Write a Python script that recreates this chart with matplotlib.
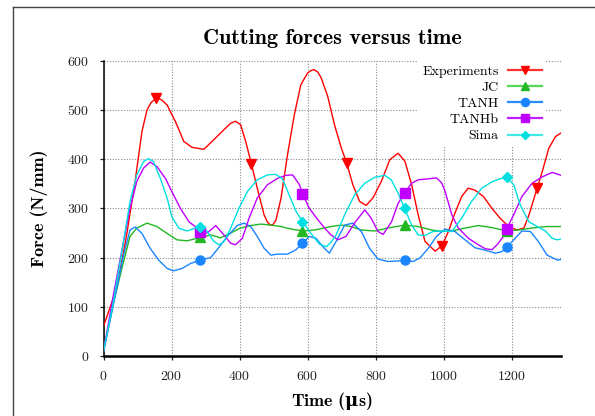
import numpy as np
import matplotlib
matplotlib.use("Agg")
import matplotlib.pyplot as plt
from matplotlib.lines import Line2D

plt.rcParams["font.family"] = ["cmr10", "DejaVu Serif"]
plt.rcParams["axes.formatter.use_mathtext"] = True
plt.rcParams["mathtext.fontset"] = "custom"
plt.rcParams["mathtext.rm"] = "DejaVu Serif:bold"
plt.rcParams["mathtext.it"] = "DejaVu Serif:italic:bold"
plt.rcParams["mathtext.bf"] = "DejaVu Serif:bold"

# Time samples (µs) and cutting forces (N/mm) for each curve
exp_t = [0, 39, 68, 93, 113, 128, 140, 155, 170, 187, 211, 236, 260, 295, 325, 344, 374, 388, 403, 418,
         435, 452, 472, 482, 490, 498, 507, 522, 541, 561, 580, 600, 610, 618, 630, 640, 659, 679, 699, 715,
         733, 753, 772, 792, 817, 842, 866, 886, 906, 925, 945, 975, 995, 1014, 1033, 1053, 1072, 1092, 1117,
         1142, 1166, 1191, 1216, 1236, 1251, 1266, 1275, 1290, 1309, 1329, 1345]
exp_f = [60, 138, 246, 355, 456, 500, 515, 524, 521, 510, 477, 436, 424, 420, 440, 453, 473, 477, 470, 436,
         390, 341, 287, 272, 266, 267, 276, 321, 409, 490, 551, 575, 580, 582, 577, 565, 528, 470, 423, 392,
         348, 314, 306, 321, 355, 399, 412, 396, 348, 287, 233, 213, 224, 253, 290, 324, 341, 337, 324,
         300, 280, 263, 256, 260, 287, 321, 341, 375, 422, 446, 453]
exp_marks = [155, 435, 715, 995, 1275]

jc_t = [0, 30, 59, 78, 98, 128, 157, 187, 216, 246, 285, 315, 344, 374, 403, 433, 462, 492, 522, 551,
        585, 620, 649, 669, 699, 728, 758, 797, 836, 885, 925, 965, 994, 1024, 1063, 1102, 1142, 1185,
        1220, 1260, 1299, 1345]
jc_f = [9, 110, 192, 243, 260, 270, 263, 249, 236, 234, 241, 246, 240, 250, 260, 265, 268, 266, 263, 258,
        254, 256, 260, 263, 266, 263, 256, 254, 260, 266, 263, 256, 253, 254, 260, 265, 261, 254,
        256, 260, 263, 263]

tanh_t = [0, 29, 59, 78, 93, 113, 137, 162, 187, 206, 231, 256, 285, 315, 334, 364, 393, 413, 433, 452,
          472, 492, 512, 541, 566, 585, 605, 625, 645, 664, 684, 709, 733, 758, 782, 807, 836, 866, 885, 910,
          930, 955, 979, 1004, 1033, 1063, 1092, 1122, 1152, 1171, 1185, 1206, 1230, 1255, 1279, 1304, 1334, 1345]
tanh_f = [9, 104, 205, 256, 262, 249, 219, 195, 178, 173, 178, 188, 195, 200, 216, 243, 265, 270, 263, 243,
          219, 205, 207, 207, 216, 229, 243, 239, 222, 209, 233, 266, 270, 253, 219, 197, 192, 193, 195, 192,
          199, 219, 243, 258, 253, 236, 220, 215, 209, 212, 221, 236, 254, 253, 232, 205, 195, 196]

tanhb_t = [0, 29, 59, 78, 98, 118, 137, 157, 182, 201, 226, 251, 275, 285, 305, 330, 354, 374, 388, 408,
           428, 452, 482, 512, 536, 556, 576, 585, 605, 630, 655, 669, 689, 713, 738, 768, 787, 807, 822, 847,
           866, 885, 906, 925, 955, 979, 994, 1004, 1024, 1043, 1073, 1102, 1122, 1142, 1157, 1176, 1185, 1206,
           1230, 1260, 1290, 1319, 1337, 1345]
tanhb_f = [9, 124, 233, 300, 355, 382, 394, 385, 361, 334, 300, 273, 260, 251, 250, 265, 246, 229, 226, 239,
           280, 321, 348, 361, 367, 368, 348, 330, 300, 277, 256, 246, 236, 243, 270, 297, 280, 253, 247, 273,
           310, 331, 351, 358, 360, 362, 352, 335, 287, 260, 239, 226, 218, 216, 226, 243, 258, 287,
           324, 351, 364, 373, 369, 367]

sima_t = [0, 29, 59, 78, 98, 118, 132, 147, 167, 187, 201, 221, 246, 270, 285, 305, 324, 340, 354, 374,
          398, 423, 452, 482, 507, 526, 546, 566, 585, 610, 635, 655, 670, 684, 709, 738, 768, 797, 827, 846,
          866, 885, 906, 925, 945, 969, 994, 1024, 1053, 1082, 1112, 1142, 1166, 1185, 1206, 1225, 1250, 1275,
          1299, 1319, 1334, 1345]
sima_f = [9, 110, 233, 314, 368, 395, 401, 395, 361, 321, 283, 260, 254, 260, 263, 253, 233, 226, 232, 260,
          300, 334, 358, 368, 369, 360, 327, 294, 273, 249, 227, 222, 232, 246, 287, 327, 351, 363, 367, 358,
          331, 300, 266, 246, 245, 253, 254, 253, 280, 314, 341, 354, 360, 363, 348, 307, 273, 263,
          254, 239, 236, 238]

model_marks = [285, 585, 885, 1185]

labels = ["Experiments", "JC", "TANH", "TANHb", "Sima"]
colors = ["#ff0000", "#22b822", "#1a85ff", "#bf00ff", "#00e0e0"]
legend_colors = ["#ff3030", "#55d855", "#2a8cff", "#c020ff", "#40e8e8"]
markers = ["v", "^", "o", "s", "D"]
msizes = [6.5, 6.5, 6.5, 7, 5]

series = [
    (exp_t, exp_f, exp_marks),
    (jc_t, jc_f, model_marks),
    (tanh_t, tanh_f, model_marks),
    (tanhb_t, tanhb_f, model_marks),
    (sima_t, sima_f, model_marks),
]

fig = plt.figure(figsize=(5.95, 4.16), dpi=100)
ax = fig.add_axes([103.5 / 595, 60 / 416, (561 - 103.5) / 595, (356 - 60.7) / 416])

for i, (t, f, marks) in enumerate(series):
    t = np.asarray(t, dtype=float)
    f = np.asarray(f, dtype=float)
    ax.plot(t, f, color=colors[i], lw=1.0, zorder=3 + i)
    sel = np.isin(t, marks)
    ax.plot(t[sel], f[sel], ls="none", marker=markers[i], ms=msizes[i],
            color=colors[i], mec=colors[i], zorder=10 + i)

ax.set_xlim(0, 1345)
ax.set_ylim(0, 600)
ax.set_xticks([0, 200, 400, 600, 800, 1000, 1200])
ax.set_yticks([0, 100, 200, 300, 400, 500, 600])
ax.grid(True, color="#8a8a8a", linestyle=(0, (1, 1.5)), lw=0.8, zorder=1)
ax.set_axisbelow(True)
for side in ("top", "right"):
    ax.spines[side].set_visible(False)
ax.spines["left"].set_linewidth(1.1)
ax.spines["bottom"].set_linewidth(1.8)
ax.tick_params(direction="out", length=3, width=0.9, pad=7, labelsize=10, colors="#222222")

bold_family = ["cmb10", "DejaVu Serif"]
ax.set_title("Cutting forces versus time", fontsize=16, fontweight="bold", family=bold_family, pad=12)
ax.set_xlabel(r"Time ($\mathrm{\mu}$s)", fontsize=13, fontweight="bold", family=bold_family, labelpad=5)
ax.set_ylabel("Force (N/mm)", fontsize=13, fontweight="bold", family=bold_family, labelpad=14)

handles = [Line2D([], [], color=legend_colors[i], lw=1.6, marker=markers[i], ms=msizes[i] * 0.9,
                  mfc=colors[i], mec=colors[i]) for i in range(len(labels))]
leg = ax.legend(handles, labels, loc="upper right", bbox_to_anchor=(0.967, 1.0), borderaxespad=0,
                markerfirst=False, frameon=True, fancybox=False, fontsize=10, handlelength=2.4,
                handletextpad=0.7, labelspacing=0.25, borderpad=0.3)
leg.get_frame().set_facecolor("white")
leg.get_frame().set_edgecolor("none")
leg.get_frame().set_alpha(1.0)
leg.set_zorder(20)

# outer frame of the figure panel
fig.add_artist(Line2D([13 / 595, 13 / 595], [0, 1 - 6.5 / 416], transform=fig.transFigure,
                      color="#444444", lw=1.0))
fig.add_artist(Line2D([13 / 595, 1], [1 - 6.5 / 416, 1 - 6.5 / 416], transform=fig.transFigure,
                      color="#444444", lw=1.0))

fig.savefig("out.png", dpi=100)
